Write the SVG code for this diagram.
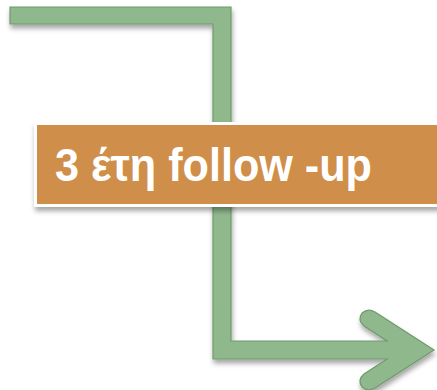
<svg xmlns="http://www.w3.org/2000/svg" width="437" height="390" viewBox="0 0 437 390">
<defs>
<filter id="sh" x="-10%" y="-10%" width="130%" height="130%">
<feDropShadow dx="1" dy="4" stdDeviation="2.5" flood-color="#000" flood-opacity="0.35"/>
</filter>
<style>
.arrow{fill:#8fb88c;stroke:#6f9a6d;stroke-width:1.2;stroke-linejoin:miter}
.box{fill:#cf8e4a;stroke:#ffffff;stroke-width:3}
.lbl{font-family:"Liberation Sans",Arial,sans-serif;font-weight:bold;font-size:47px;fill:#ffffff}
</style>
</defs>
<g id="connectors">
<path class="arrow" filter="url(#sh)" d="M10,7 H231 V341 H387 L364,326 Q357,320 362,313 Q368,308 375,312 L434,350 L375,388 Q368,392 362,387 Q357,380 364,374 L387,359 H213 V24 H10 Z"/>
</g>
<g id="node-followup">
<rect class="box" filter="url(#sh)" x="35.5" y="123.5" width="420" height="82"/>
<text class="lbl" x="55" y="180.5" textLength="317" lengthAdjust="spacingAndGlyphs">3 έτη follow -up</text>
</g>
</svg>
